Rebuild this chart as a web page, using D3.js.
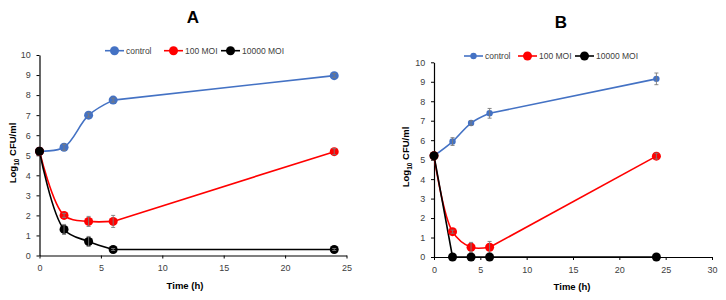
<!DOCTYPE html>
<html><head><meta charset="utf-8">
<script src="https://cdn.jsdelivr.net/npm/d3@7"></script>
<style>body{margin:0;background:#fff}svg{display:block}</style>
</head><body>
<svg id="c" width="726" height="300"></svg>
<script>
const times = [0, 2, 4, 6, 24];
const seriesNames = ["control", "100 MOI", "10000 MOI"];
const xTicksA = [0, 5, 10, 15, 20, 25];
const xTicksB = [0, 5, 10, 15, 20, 25, 30];
const yTicks = [0,1,2,3,4,5,6,7,8,9,10];

const controlA = [5.2, 5.4, 7.0, 7.75, 8.97];
const controlAErr = [0, 0.15, 0.1, 0.1, 0.1];
const moi100A = [5.2, 2.0, 1.7, 1.7, 5.18];
const moi100AErr = [0, 0.1, 0.25, 0.3, 0.15];
const moi10000A = [5.2, 1.3, 0.7, 0.3, 0.3];
const moi10000AErr = [0, 0.25, 0.25, 0.05, 0.05];

const controlB = [5.2, 5.93, 6.88, 7.38, 9.15];
const controlBErr = [0, 0.2, 0.12, 0.25, 0.3];
const moi100B = [5.2, 1.3, 0.5, 0.5, 5.18];
const moi100BErr = [0, 0.08, 0.25, 0.3, 0.15];
const moi10000B = [5.2, 0, 0, 0, 0];
const moi10000BErr = [0, 0, 0, 0, 0];

const colors = ["#4472C4", "#FF0000", "#000000"];
const svg = d3.select("#c");
const FONT = "'Liberation Sans', Arial, sans-serif";

function panel(o) {
  const x = d3.scaleLinear().domain([0, o.xMax]).range([o.x0, o.x1]);
  const y = d3.scaleLinear().domain([0, 10]).range([o.y0, o.y1]);
  const g = svg.append("g");
  g.append("text").attr("x", o.titleX).attr("y", o.titleY).attr("text-anchor","middle")
    .attr("font-family", FONT).attr("font-weight","bold").attr("font-size", 17).text(o.title);
  const ax = g.append("g").attr("transform", `translate(0,${o.y0})`)
    .call(d3.axisBottom(x).tickValues(o.xTicks).tickSize(3).tickSizeOuter(0));
  const ay = g.append("g").attr("transform", `translate(${o.x0},0)`)
    .call(d3.axisLeft(y).tickValues(yTicks).tickSize(3).tickSizeOuter(0));
  [ax, ay].forEach(a => {
    a.select(".domain").attr("stroke", "#000").attr("stroke-width", 1.2);
    a.selectAll(".tick line").attr("stroke", "#000");
    a.selectAll(".tick text").attr("fill", "#404040").attr("font-family", FONT).attr("font-size", 9);
  });
  ax.selectAll(".tick text").attr("dy", "1.1em");
  ay.selectAll(".tick text").attr("dx", "-0.3em");
  g.append("text").attr("x", o.xLabX).attr("y", o.xLabY).attr("text-anchor","middle")
    .attr("font-family", FONT).attr("font-weight","bold").attr("font-size", 9.5).text("Time (h)");
  const yl = g.append("text").attr("transform", `translate(${o.yLabX},${o.yLabY}) rotate(-90)`)
    .attr("text-anchor","middle").attr("font-family", FONT).attr("font-weight","bold").attr("font-size", 9.5);
  yl.append("tspan").text("Log");
  yl.append("tspan").attr("font-size", 6.5).attr("dy", 3).text("10");
  yl.append("tspan").attr("dy", -3).text(" CFU/ml");

  o.series.forEach((s, i) => {
    const pts = times.map((t, j) => ({t, v: s.vals[j], e: s.err[j]}));
    const smooth = d3.line().x(d => x(d.t)).y(d => y(d.v)).curve(s.curve);
    const straight = d3.line().x(d => x(d.t)).y(d => y(d.v));
    // smoothed over the dense early time points, straight over the long 6-24 h span
    g.append("path").datum(pts.slice(0, 4)).attr("d", smooth).attr("fill","none")
      .attr("stroke", colors[i]).attr("stroke-width", 1.6).attr("stroke-linejoin","round");
    g.append("path").datum(pts.slice(3)).attr("d", straight).attr("fill","none")
      .attr("stroke", colors[i]).attr("stroke-width", 1.6);
  });
  o.series.forEach((s, i) => {
    const pts = times.map((t, j) => ({t, v: s.vals[j], e: s.err[j]}));
    g.selectAll(null).data(pts).enter().append("circle")
      .attr("cx", d => x(d.t)).attr("cy", d => y(d.v)).attr("r", s.r).attr("fill", colors[i]);
    const eb = pts.filter(d => d.e > 0);
    const eg = g.selectAll(null).data(eb).enter().append("g").attr("stroke", "#7a7a7a").attr("stroke-width", 0.9);
    eg.append("line").attr("x1", d => x(d.t)).attr("x2", d => x(d.t))
      .attr("y1", d => y(d.v - d.e)).attr("y2", d => y(d.v + d.e));
    eg.append("line").attr("x1", d => x(d.t) - 2).attr("x2", d => x(d.t) + 2)
      .attr("y1", d => y(d.v - d.e)).attr("y2", d => y(d.v - d.e));
    eg.append("line").attr("x1", d => x(d.t) - 2).attr("x2", d => x(d.t) + 2)
      .attr("y1", d => y(d.v + d.e)).attr("y2", d => y(d.v + d.e));
  });
  o.legend.forEach((L, i) => {
    const s = o.series[i];
    g.append("line").attr("x1", L.x).attr("x2", L.x + 19).attr("y1", o.legY).attr("y2", o.legY)
      .attr("stroke", colors[i]).attr("stroke-width", 1.6);
    g.append("circle").attr("cx", L.x + 9.5).attr("cy", o.legY).attr("r", s.r).attr("fill", colors[i]);
    g.append("text").attr("x", L.x + 21).attr("y", o.legY).attr("dy", "0.35em")
      .attr("font-family", FONT).attr("font-size", 8.5).attr("fill", "#404040").text(seriesNames[i]);
  });
}

panel({
  title: "A", titleX: 193, titleY: 23, xMax: 25, xTicks: xTicksA,
  x0: 39.5, x1: 346.5, y0: 255.5, y1: 55,
  xLabX: 185, xLabY: 289, yLabX: 16, yLabY: 153, legY: 50.7,
  legend: [{x: 105}, {x: 164}, {x: 221}],
  series: [
    {vals: controlA, err: controlAErr, r: 4.5, curve: d3.curveCatmullRom.alpha(0.5)},
    {vals: moi100A, err: moi100AErr, r: 4.5, curve: d3.curveCatmullRom.alpha(0.5)},
    {vals: moi10000A, err: moi10000AErr, r: 4.5, curve: d3.curveCatmullRom.alpha(0.5)}
  ]
});
panel({
  title: "B", titleX: 561, titleY: 28, xMax: 30, xTicks: xTicksB,
  x0: 434, x1: 712, y0: 257, y1: 62.3,
  xLabX: 572, xLabY: 290, yLabX: 409, yLabY: 157, legY: 56,
  legend: [{x: 464}, {x: 518}, {x: 575}],
  series: [
    {vals: controlB, err: controlBErr, r: 3.2, curve: d3.curveCatmullRom.alpha(0.5)},
    {vals: moi100B, err: moi100BErr, r: 4.5, curve: d3.curveCatmullRom.alpha(0.5)},
    {vals: moi10000B, err: moi10000BErr, r: 4.5, curve: d3.curveLinear}
  ]
});
</script>
</body></html>
